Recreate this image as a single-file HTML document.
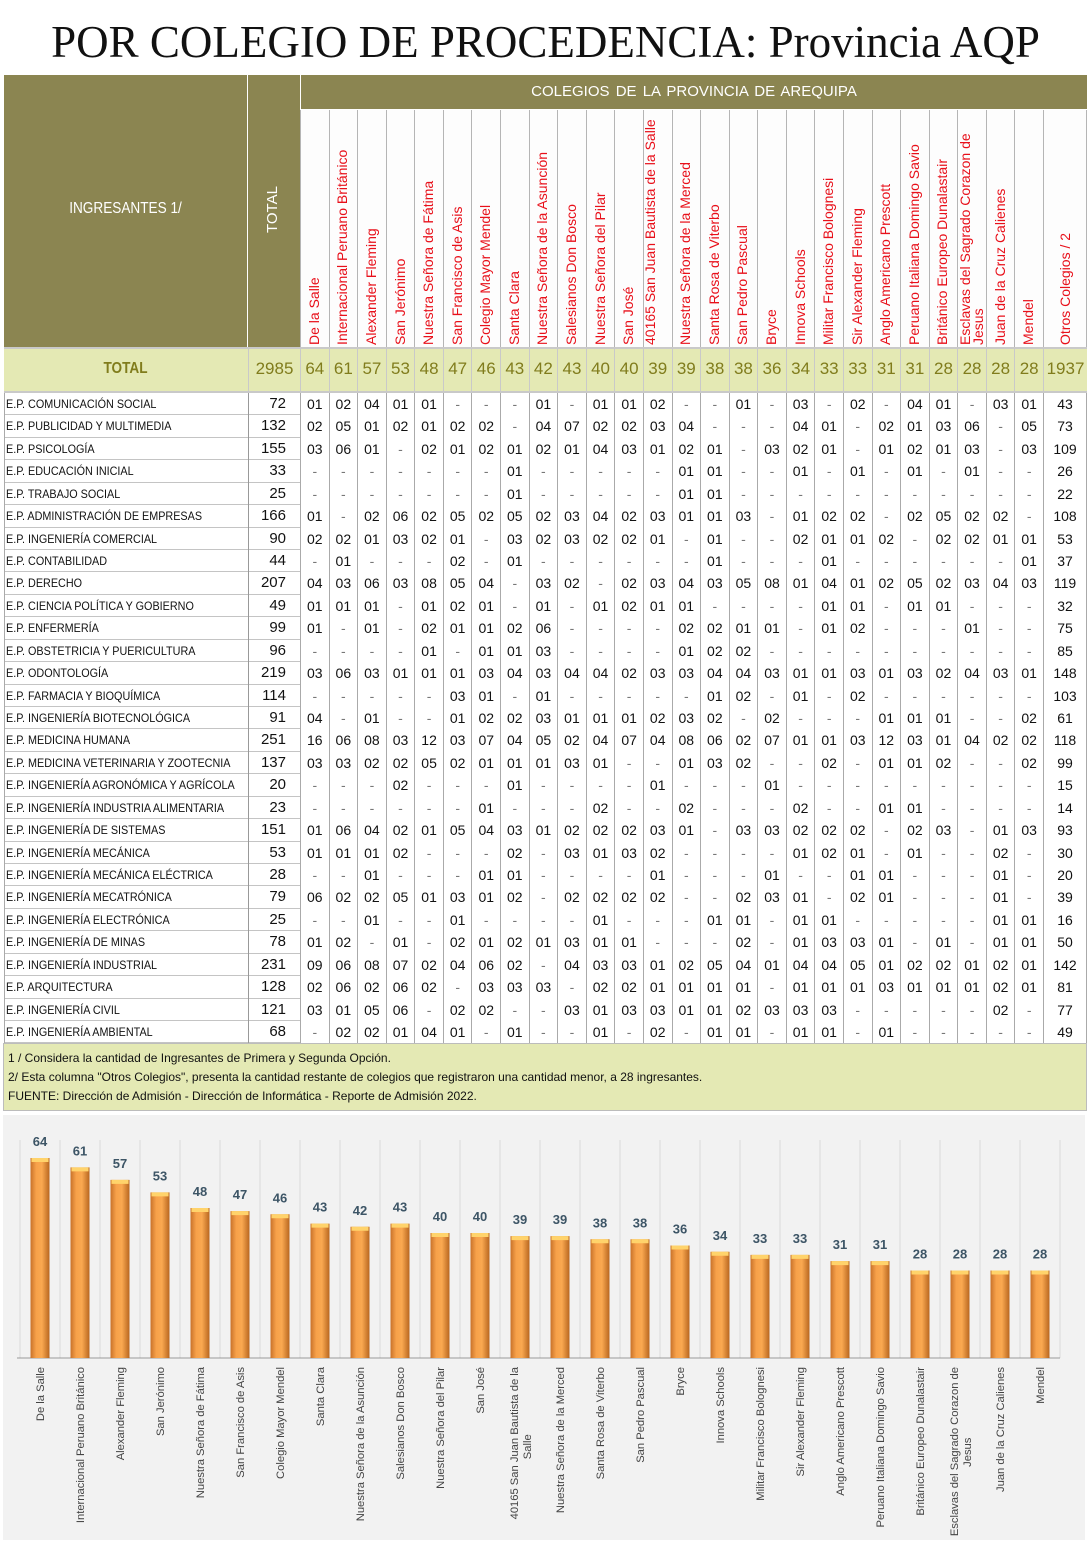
<!DOCTYPE html>
<html><head><meta charset="utf-8">
<style>
html,body{margin:0;padding:0;background:#fff}
#root{position:relative;width:1091px;height:1543px;overflow:hidden;font-family:"Liberation Sans",Arial,sans-serif}
.a{position:absolute;box-sizing:border-box}
.title{left:0;top:14px;width:1091px;text-align:center;font-family:"Liberation Serif",serif;font-size:45px;color:#111;line-height:56px}
.olive{background:#8b8551}
.hdr{color:#fff;font-size:15px;text-align:center}
.vt{writing-mode:vertical-rl;transform:rotate(180deg);color:#e8101a;font-size:14px;white-space:nowrap;line-height:14px;overflow:hidden}
.cell{font-size:14px;text-align:center;color:#111;line-height:22px}
.lab{font-size:12px;color:#111;line-height:22px;white-space:nowrap;transform:scaleX(.9);transform-origin:left}
.tot{color:#807c1c;font-size:17px;text-align:center;line-height:44px}
.foot{font-size:12px;color:#111;line-height:18px;white-space:nowrap}
</style></head>
<body>
<div id="root">
<div class="a title">POR COLEGIO DE PROCEDENCIA: Provincia AQP</div>
<div id="tbl" class="a" style="left:0;top:0;width:1091px;height:1115px"></div>
<div class="a" style="left:3px;top:1043px;width:1084px;height:68px;background:#e4e9b4;border:1px solid #bcbcbc">
 <div class="a foot" style="left:4px;top:5px">1 / Considera la cantidad de Ingresantes de Primera y Segunda Opción.</div>
 <div class="a foot" style="left:4px;top:24px">2/ Esta columna "Otros Colegios", presenta la cantidad restante de colegios que registraron una cantidad menor, a 28 ingresantes.</div>
 <div class="a foot" style="left:4px;top:43px">FUENTE: Dirección de Admisión - Dirección de Informática - Reporte de Admisión 2022.</div>
</div>
<svg class="a" id="chart" style="left:0;top:1115px" width="1091" height="428">
 <defs>
  <linearGradient id="bg" x1="0" x2="1" y1="0" y2="0">
   <stop offset="0" stop-color="#c8722a"/><stop offset=".3" stop-color="#f7a14a"/><stop offset=".6" stop-color="#f9a850"/><stop offset="1" stop-color="#b8661f"/>
  </linearGradient>
 </defs>
 <rect x="3" y="0" width="1082" height="425" fill="#f2f2f2"/>
 <g id="cg"></g>
</svg>
</div>
<script>
const schools=["De la Salle","Internacional Peruano Británico","Alexander Fleming","San Jerónimo","Nuestra Señora de Fátima","San Francisco de Asis","Colegio Mayor Mendel","Santa Clara","Nuestra Señora de la Asunción","Salesianos Don Bosco","Nuestra Señora del Pilar","San José","40165 San Juan Bautista de la Salle","Nuestra Señora de la Merced","Santa Rosa de Viterbo","San Pedro Pascual","Bryce","Innova Schools","Militar Francisco Bolognesi","Sir Alexander Fleming","Anglo Americano Prescott","Peruano Italiana Domingo Savio","Británico Europeo Dunalastair","Esclavas del Sagrado Corazon de Jesus","Juan de la Cruz Calienes","Mendel"];
const schoolTotals=[64,61,57,53,48,47,46,43,42,43,40,40,39,39,38,38,36,34,33,33,31,31,28,28,28,28];
const grandTotal=2985;
const otrosTotal=1937;
const programs=["E.P. COMUNICACIÓN SOCIAL","E.P. PUBLICIDAD Y MULTIMEDIA","E.P. PSICOLOGÍA","E.P. EDUCACIÓN INICIAL","E.P. TRABAJO SOCIAL","E.P. ADMINISTRACIÓN DE EMPRESAS","E.P. INGENIERÍA COMERCIAL","E.P. CONTABILIDAD","E.P. DERECHO","E.P. CIENCIA POLÍTICA Y GOBIERNO","E.P. ENFERMERÍA","E.P. OBSTETRICIA Y PUERICULTURA","E.P. ODONTOLOGÍA","E.P. FARMACIA Y BIOQUÍMICA","E.P. INGENIERÍA BIOTECNOLÓGICA","E.P. MEDICINA HUMANA","E.P. MEDICINA VETERINARIA Y ZOOTECNIA","E.P. INGENIERÍA AGRONÓMICA Y AGRÍCOLA","E.P. INGENIERÍA INDUSTRIA ALIMENTARIA","E.P. INGENIERÍA DE SISTEMAS","E.P. INGENIERÍA MECÁNICA","E.P. INGENIERÍA MECÁNICA ELÉCTRICA","E.P. INGENIERÍA MECATRÓNICA","E.P. INGENIERÍA ELECTRÓNICA","E.P. INGENIERÍA DE MINAS","E.P. INGENIERÍA INDUSTRIAL","E.P. ARQUITECTURA","E.P. INGENIERÍA CIVIL","E.P. INGENIERÍA AMBIENTAL"];
const programTotals=[72,132,155,33,25,166,90,44,207,49,99,96,219,114,91,251,137,20,23,151,53,28,79,25,78,231,128,121,68];
const otrosValues=[43,73,109,26,22,108,53,37,119,32,75,85,148,103,61,118,99,15,14,93,30,20,39,16,50,142,81,77,49];
const cellRows=[
"01 02 04 01 01 - - - 01 - 01 01 02 - - 01 - 03 - 02 - 04 01 - 03 01",
"02 05 01 02 01 02 02 - 04 07 02 02 03 04 - - - 04 01 - 02 01 03 06 - 05",
"03 06 01 - 02 01 02 01 02 01 04 03 01 02 01 - 03 02 01 - 01 02 01 03 - 03",
"- - - - - - - 01 - - - - - 01 01 - - 01 - 01 - 01 - 01 - -",
"- - - - - - - 01 - - - - - 01 01 - - - - - - - - - - -",
"01 - 02 06 02 05 02 05 02 03 04 02 03 01 01 03 - 01 02 02 - 02 05 02 02 -",
"02 02 01 03 02 01 - 03 02 03 02 02 01 - 01 - - 02 01 01 02 - 02 02 01 01",
"- 01 - - - 02 - 01 - - - - - - 01 - - - 01 - - - - - - 01",
"04 03 06 03 08 05 04 - 03 02 - 02 03 04 03 05 08 01 04 01 02 05 02 03 04 03",
"01 01 01 - 01 02 01 - 01 - 01 02 01 01 - - - - 01 01 - 01 01 - - -",
"01 - 01 - 02 01 01 02 06 - - - - 02 02 01 01 - 01 02 - - - 01 - -",
"- - - - 01 - 01 01 03 - - - - 01 02 02 - - - - - - - - - -",
"03 06 03 01 01 01 03 04 03 04 04 02 03 03 04 04 03 01 01 03 01 03 02 04 03 01",
"- - - - - 03 01 - 01 - - - - - 01 02 - 01 - 02 - - - - - -",
"04 - 01 - - 01 02 02 03 01 01 01 02 03 02 - 02 - - - 01 01 01 - - 02",
"16 06 08 03 12 03 07 04 05 02 04 07 04 08 06 02 07 01 01 03 12 03 01 04 02 02",
"03 03 02 02 05 02 01 01 01 03 01 - - 01 03 02 - - 02 - 01 01 02 - - 02",
"- - - 02 - - - 01 - - - - 01 - - - 01 - - - - - - - - -",
"- - - - - - 01 - - - 02 - - 02 - - - 02 - - 01 01 - - - -",
"01 06 04 02 01 05 04 03 01 02 02 02 03 01 - 03 03 02 02 02 - 02 03 - 01 03",
"01 01 01 02 - - - 02 - 03 01 03 02 - - - - 01 02 01 - 01 - - 02 -",
"- - 01 - - - 01 01 - - - - 01 - - - 01 - - 01 01 - - - 01 -",
"06 02 02 05 01 03 01 02 - 02 02 02 02 - - 02 03 01 - 02 01 - - - 01 -",
"- - 01 - - 01 - - - - 01 - - - 01 01 - 01 01 - - - - - 01 01",
"01 02 - 01 - 02 01 02 01 03 01 01 - - - 02 - 01 03 03 01 - 01 - 01 01",
"09 06 08 07 02 04 06 02 - 04 03 03 01 02 05 04 01 04 04 05 01 02 02 01 02 01",
"02 06 02 06 02 - 03 03 03 - 02 02 01 01 01 01 - 01 01 01 03 01 01 01 02 01",
"03 01 05 06 - 02 02 - - 03 01 03 03 01 01 02 03 03 03 - - - - - 02 -",
"- 02 02 01 04 01 - 01 - - 01 - 02 - 01 01 - 01 01 - 01 - - - - -"];
const headerNames=["De la Salle","Internacional Peruano Británico","Alexander Fleming","San Jerónimo","Nuestra Señora de Fátima","San Francisco de Asis","Colegio Mayor Mendel","Santa Clara","Nuestra Señora de la Asunción","Salesianos Don Bosco","Nuestra Señora del Pilar","San José","40165 San Juan Bautista de la Salle","Nuestra Señora de la Merced","Santa Rosa de Viterbo","San Pedro Pascual","Bryce","Innova Schools","Militar Francisco Bolognesi","Sir Alexander Fleming","Anglo Americano Prescott","Peruano Italiana Domingo Savio","Británico Europeo Dunalastair","Esclavas del Sagrado Corazon de Jesus","Juan de la Cruz Calienes","Mendel"];

const T=document.getElementById('tbl');
const X0=300,CW=(1043-300)/26,ROW0=393,RH=22.43;
function box(cls,x,y,w,h,txt,st){const d=document.createElement('div');d.className='a '+cls;d.style.left=x+'px';d.style.top=y+'px';d.style.width=w+'px';d.style.height=h+'px';if(st)d.style.cssText+=st;if(txt!=null)d.textContent=txt;T.appendChild(d);return d;}
let e=box('olive hdr',4,75,243,272,null,'');


e=box('hdr',4,200,243,24,'INGRESANTES 1/','font-size:16px;transform:scaleX(.85);');


e=box('olive',248,75,52,272,null,'');


e=box('vt',266,150,16,120,'TOTAL','color:#fff;font-size:15px;text-align:center;');


e=box('olive hdr',301,75,786,34,'COLEGIOS  DE  LA  PROVINCIA  DE  AREQUIPA','line-height:34px;font-size:15px;word-spacing:2px;');


for(let i=0;i<27;i++){
 const x=X0+i*CW, w=i<26?CW:44;
 const c=box('',x,110,w,237,null,'border-left:1px solid #b5b5b5;background:#fdfdfd;border-right:'+(i==26?'1px solid #b5b5b5':'0'));
 
 
 const nm=i<26?headerNames[i]:'Otros Colegios  / 2';
 const wrap=nm.length>32;
 const t=box('vt',x+(w-(wrap?26:15))/2,112,wrap?26:15,233,nm,'text-align:left;'+(wrap?'white-space:normal;line-height:13px;':''));
 
 
}
e=box('',4,347,1083,46,null,'background:#e4e9b4;border-top:2px solid #c9c9c9;border-bottom:2px solid #c9c9c9;');


e=box('tot',4,347,243,46,'TOTAL','font-weight:bold;font-size:16px;transform:scaleX(.85);');


e=box('tot',248,347,52,46,String(grandTotal),'border-left:1px solid #c9c9c9;');


for(let i=0;i<26;i++){
 e=box('tot',X0+i*CW,347,CW,46,String(schoolTotals[i]),'border-left:1px solid #c9c9c9;');
 
 
}
e=box('tot',1043,347,44,46,String(otrosTotal),'border-left:1px solid #c9c9c9;');


for(let r=0;r<programs.length;r++){
 const y=ROW0+r*RH;
 e=box('',4,y,296,RH,null,'border-bottom:1px solid #c4c4c4;');
 
 
 e=box('lab',6,y,240,RH,programs[r]);
 
 
 e=box('cell',248,y,52,RH,String(programTotals[r]),'text-align:right;padding-right:14px;font-size:15px;border-left:1px solid #999;');
 
 
 const vals=cellRows[r].split(' ');
 for(let i=0;i<26;i++){
  e=box('cell',X0+i*CW,y,CW,RH,vals[i],'border-left:1px solid #aaa;'+(vals[i]=='-'?'color:#777;':''));
  
  
 }
 e=box('cell',1043,y,44,RH,String(otrosValues[r]),'border-left:1px solid #aaa;border-right:1px solid #aaa;');
 
 
}
e=box('',4,393,1,RH*29,null,'background:#aaa;');



const NS='http://www.w3.org/2000/svg';
const G=document.getElementById('cg');
const plotL=20,plotR=1060,baseY=243,topY=43,maxV=64;
const xBand=i=>plotL+(i+0.5)*(plotR-plotL)/schoolTotals.length;
const yS=v=>baseY-(v/maxV)*(baseY-topY);
function sv(tag,at){const n=document.createElementNS(NS,tag);for(const k in at)n.setAttribute(k,at[k]);G.appendChild(n);return n;}
const step=(plotR-plotL)/schoolTotals.length;
for(let i=0;i<=schoolTotals.length;i++){
 const l=sv('line',{x1:plotL+i*step,x2:plotL+i*step,y1:25,y2:baseY,stroke:'#d9d9d9','stroke-width':1});
 
 
}
const ax=sv('line',{x1:plotL-3,x2:plotR,y1:baseY,y2:baseY,stroke:'#999','stroke-width':1});


schoolTotals.forEach((v,i)=>{
 const cx=xBand(i),bw=19,y=yS(v);
 const b=sv('rect',{x:cx-bw/2,y:y,width:bw,height:baseY-y,fill:'url(#bg)'});
 
 
 const cap=sv('rect',{x:cx-bw/2+1,y:y,width:bw-2,height:4,fill:'#ffd36b'});
 
 
 const t=sv('text',{x:cx,y:y-12,'text-anchor':'middle','font-size':'13','font-weight':'bold',fill:'#3d5566','font-family':'Liberation Sans, sans-serif'});
 t.textContent=v;
 
 
 const name=schools[i];
 const wrap=name.length>32;
 const cut=name.lastIndexOf(' ');
 const l1=wrap?name.slice(0,cut):name, l2=wrap?name.slice(cut+1):null;
 const lt=sv('text',{transform:'translate('+cx+','+(baseY+9)+') rotate(-90)','font-size':'11.2',fill:'#444','font-family':'Liberation Sans, sans-serif'});
 
 
 const t1=document.createElementNS(NS,'tspan');
 t1.setAttribute('x',0);t1.setAttribute('y',wrap?-2:4);t1.setAttribute('text-anchor','end');t1.textContent=l1;lt.appendChild(t1);
 if(wrap){
  const w1=l1.length*5.5;
  const t2=document.createElementNS(NS,'tspan');
  t2.setAttribute('x',-w1/2);t2.setAttribute('y',11);t2.setAttribute('text-anchor','middle');t2.textContent=l2;lt.appendChild(t2);
 }
});
</script>
</body></html>
